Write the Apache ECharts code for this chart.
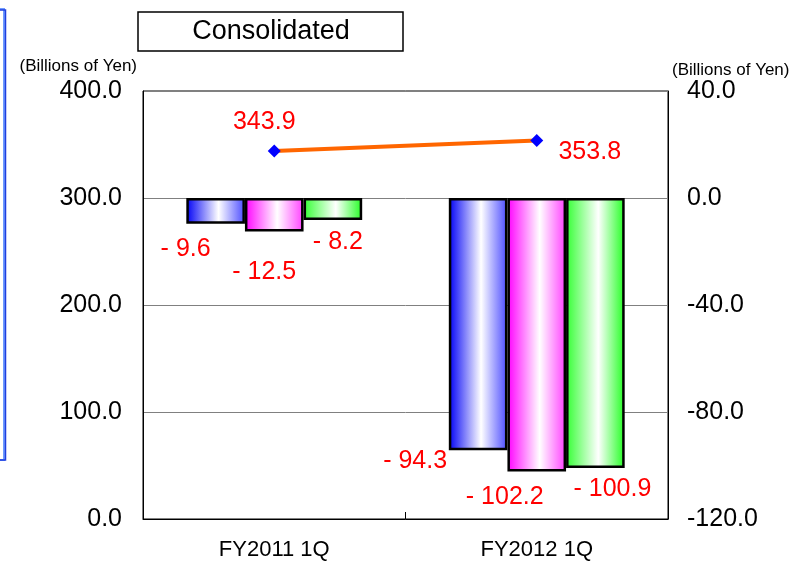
<!DOCTYPE html>
<html>
<head>
<meta charset="utf-8">
<script src="https://cdn.jsdelivr.net/npm/echarts@6/dist/echarts.min.js"></script>
<style>
html,body{margin:0;padding:0;background:#fff;}
#chart{width:793px;height:563px;}
</style>
</head>
<body>
<div id="chart"></div>
<script>
// ---- data ----
const categories = ['FY2011 1Q', 'FY2012 1Q'];
const seriesBlue = [-9.6, -94.3];
const seriesMagenta = [-12.5, -102.2];
const seriesGreen = [-8.2, -100.9];
const lineValues = [343.9, 353.8];
const leftTicks = { min: 0, max: 400, interval: 100 };
const rightTicks = { min: -120, max: 40, interval: 40 };
const unitLabel = '(Billions of Yen)';
const titleText = 'Consolidated';

// ---- layout / style (not data) ----
const FONT = 'Liberation Sans, Arial, sans-serif';
const blueOffsets = [[-30, 13], [-63, -2]];
const magentaOffsets = [[-10, 28], [-32, 13]];
const greenOffsets = [[5, 10], [17, 9]];
const lineOffsets = [[-10, -10], [53, 31]];

function grad(c1, c2) {
  return new echarts.graphic.LinearGradient(0, 0, 1, 0, [
    { offset: 0, color: c1 },
    { offset: 0.55, color: '#ffffff' },
    { offset: 1, color: c2 }
  ]);
}
function negFmt(p) { return '- ' + Math.abs(p.value).toFixed(1); }

function barSeries(name, values, offsets, c1, c2) {
  return {
    name: name,
    type: 'bar',
    yAxisIndex: 1,
    barGap: '0%',
    barCategoryGap: '33%',
    data: values.map(function (v, i) {
      return { value: v, label: { offset: offsets[i] } };
    }),
    itemStyle: { color: grad(c1, c2), borderColor: '#000', borderWidth: 2.5 },
    label: {
      show: true, position: 'bottom', distance: 0,
      color: '#ff0000', fontSize: 25, fontFamily: FONT, formatter: negFmt
    },
    z: 3
  };
}

const chart = echarts.init(document.getElementById('chart'), null, { renderer: 'canvas' });
chart.setOption({
  animation: false,
  backgroundColor: '#ffffff',
  grid: { left: 143, right: 125, top: 91, bottom: 44, show: true, borderColor: '#000', borderWidth: 1, backgroundColor: 'transparent' },
  graphic: [
    { type: 'rect', shape: { x: -20, y: 9, width: 24, height: 451 }, style: { fill: '#ffffff', stroke: '#6f9bff', lineWidth: 2 }, z: 10 },
    { type: 'rect', shape: { x: -20, y: 10, width: 25.5, height: 450 }, style: { fill: 'transparent', stroke: '#1f3fe0', lineWidth: 1.5 }, z: 10 },
    { type: 'rect', shape: { x: 138, y: 12, width: 265, height: 39 }, style: { fill: '#ffffff', stroke: '#000', lineWidth: 1.5 }, z: 10 },
    { type: 'text', x: 271, y: 31.5, style: { text: titleText, font: '27px ' + FONT, fill: '#000', textAlign: 'center', textVerticalAlign: 'middle' }, z: 11 }
  ],
  xAxis: {
    type: 'category',
    data: categories,
    axisLine: { show: true, lineStyle: { color: '#000', width: 1 } },
    axisTick: { show: true, inside: true, length: 7, lineStyle: { color: '#000' } },
    axisLabel: { color: '#000', fontSize: 22, fontFamily: FONT, margin: 20 },
    splitLine: { show: false }
  },
  yAxis: [
    {
      type: 'value', min: leftTicks.min, max: leftTicks.max, interval: leftTicks.interval,
      name: unitLabel, nameLocation: 'end', nameGap: 16,
      nameTextStyle: { color: '#000', fontSize: 17, fontFamily: FONT, align: 'right', padding: [0, 6, 0, 0] },
      axisLine: { show: true, lineStyle: { color: '#000', width: 1 } },
      axisTick: { show: false },
      axisLabel: { color: '#000', fontSize: 25, fontFamily: FONT, margin: 21, formatter: function (v) { return v.toFixed(1); } },
      splitLine: { show: true, lineStyle: { color: '#808080', width: 1 } }
    },
    {
      type: 'value', min: rightTicks.min, max: rightTicks.max, interval: rightTicks.interval,
      name: unitLabel, nameLocation: 'end', nameGap: 12,
      nameTextStyle: { color: '#000', fontSize: 17, fontFamily: FONT, align: 'left', padding: [0, 0, 0, 4] },
      axisLine: { show: true, lineStyle: { color: '#000', width: 1 } },
      axisTick: { show: false },
      axisLabel: { color: '#000', fontSize: 25, fontFamily: FONT, margin: 19, formatter: function (v) { return v.toFixed(1); } },
      splitLine: { show: false }
    }
  ],
  series: [
    barSeries('blue', seriesBlue, blueOffsets, '#0000f5', '#4a4aff'),
    barSeries('magenta', seriesMagenta, magentaOffsets, '#ff00ff', '#ff40ff'),
    barSeries('green', seriesGreen, greenOffsets, '#33ff33', '#22ff22'),
    {
      name: 'line', type: 'line', yAxisIndex: 0,
      data: lineValues.map(function (v, i) { return { value: v, label: { offset: lineOffsets[i] } }; }),
      lineStyle: { color: '#ff6600', width: 4 },
      symbol: 'diamond', symbolSize: 13,
      itemStyle: { color: '#0000ff' },
      label: { show: true, position: 'top', distance: 0, color: '#ff0000', fontSize: 25, fontFamily: FONT, formatter: function (p) { return p.value.toFixed(1); } },
      z: 5
    }
  ]
});
</script>
</body>
</html>
